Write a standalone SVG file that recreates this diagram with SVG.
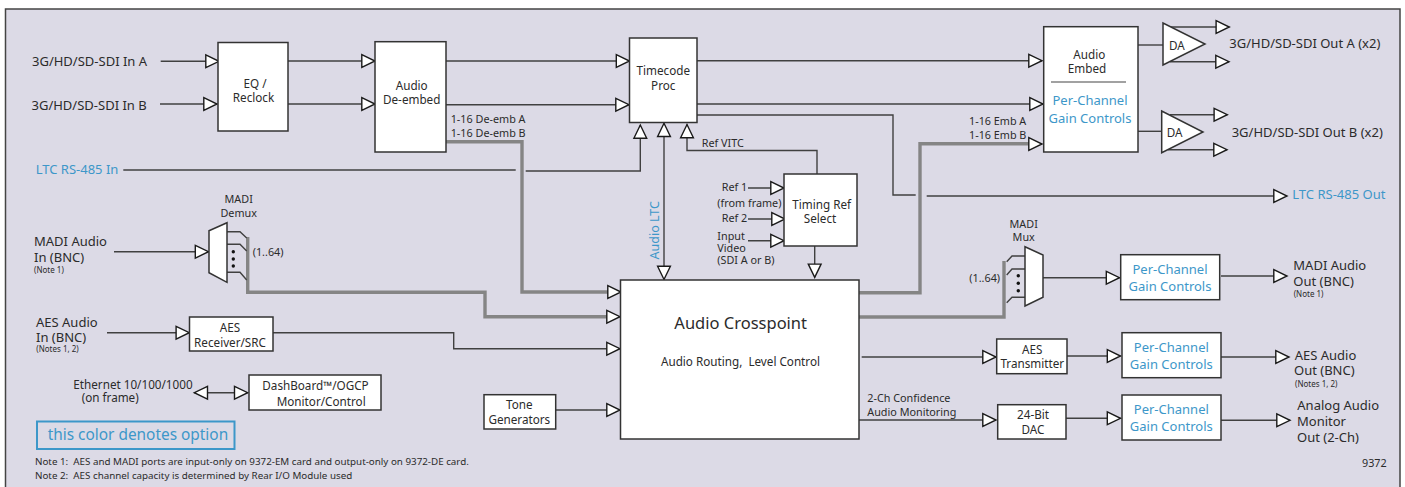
<svg xmlns="http://www.w3.org/2000/svg" width="1405" height="487" viewBox="0 0 1405 487">
<style>
text{font-family:"Noto Sans","Liberation Sans",sans-serif;fill:#2b2b2b;font-size:11.7px;white-space:pre}
.m{text-anchor:middle}
.b{fill:#3d97c9}
.s{font-size:10.8px}
.xs{font-size:8px}
.l{font-size:13px}
.p{font-size:13px;fill:#3d97c9;text-anchor:middle}
.n{font-size:9.8px}
.box{fill:#fff;stroke:#333;stroke-width:1.5}
.c path{fill:none;stroke:#404040;stroke-width:1.4}
.c .t{stroke:#858585;stroke-width:3.4}
.c .a{marker-end:url(#ah)}
.c .d{marker-start:url(#ahs);marker-end:url(#ah)}
.dot{fill:#111}
</style>
<defs>
<marker id="ah" markerUnits="userSpaceOnUse" markerWidth="16" markerHeight="16" refX="14" refY="8" orient="auto" overflow="visible"><path d="M0.8,1.6 L14,8 L0.8,14.4 Z" fill="#fff" stroke="#1a1a1a" stroke-width="1.4"/></marker>
<marker id="ahs" markerUnits="userSpaceOnUse" markerWidth="16" markerHeight="16" refX="14" refY="8" orient="auto-start-reverse" overflow="visible"><path d="M0.8,1.6 L14,8 L0.8,14.4 Z" fill="#fff" stroke="#1a1a1a" stroke-width="1.4"/></marker>
</defs>
<rect x="5.5" y="9" width="1394.5" height="482" fill="#dcdae6" stroke="#444" stroke-width="1.5"/>

<g id="connectors" class="c">
<path class="t" d="M446,141.7H522V292H612"/>
<path class="t" d="M247.7,237V292.3H485V316.7H612"/>
<path class="t" d="M859,292.7H920V143.7H1035"/>
<path class="t" d="M859,317H1004V261"/>
<path class="a" d="M160.7,61.3H219"/>
<path class="a" d="M160,104H217"/>
<path class="a" d="M288,61H375"/>
<path class="a" d="M288,104H375"/>
<path class="a" d="M446,61H629.5"/>
<path class="a" d="M446,104.7H629"/>
<path class="a" d="M697,60.7H1042"/>
<path class="a" d="M697,104H1043"/>
<path d="M697,115H893V195H915.7"/>
<path class="a" d="M926.7,196H1287"/>
<path d="M123.3,170H515.7"/>
<path class="a" d="M525.7,171H640.3V125"/>
<path class="d" d="M664,123.3V279.5"/>
<path class="a" d="M817,174V150.5H687V124.5"/>
<path class="a" d="M748,188H784"/>
<path class="a" d="M748,219H785"/>
<path class="a" d="M748,240.7H784"/>
<path class="a" d="M814.7,246V277.3"/>
<path class="a" d="M612,292H621"/>
<path class="a" d="M612,316.7H620"/>
<path class="a" d="M1035,144H1042"/>
<path d="M227,231.7H240L246.7,238"/>
<path d="M227,244.3H240L246.7,251"/>
<path d="M227,272.3H240L246.7,280"/>
<path class="a" d="M114,251.7H208.5"/>
<path class="a" d="M107,332.7H189.3"/>
<path class="a" d="M273,332.7H453.7V348.7H620"/>
<path class="a" d="M555.7,410H620"/>
<path class="a" d="M861.7,357H996"/>
<path class="a" d="M859,420H996"/>
<path class="a" d="M1067,356H1120.5"/>
<path class="a" d="M1066,418.3H1120.5"/>
<path class="a" d="M1043,277.7H1119.5"/>
<path class="a" d="M1221,276H1287"/>
<path class="a" d="M1221,357H1289"/>
<path class="a" d="M1221,420.3H1290"/>
<path class="d" d="M194.3,392.7H247.7"/>
<path d="M1138,45H1163"/>
<path d="M1138,131.3H1161.7"/>
<path class="a" d="M1170,27H1229.3"/>
<path class="a" d="M1170,61.7H1229"/>
<path class="a" d="M1170,114.7H1227.3"/>
<path class="a" d="M1168,149.7H1227"/>
<path d="M1006.7,261.7L1012,256H1025"/>
<path d="M1006.7,275L1012,269H1025"/>
<path d="M1006.7,302.7L1012,297.3H1025"/>
</g>

<g id="sdi-in"><text class="l" x="32" y="66">3G/HD/SD-SDI In A</text><text class="l" x="31.5" y="109.7">3G/HD/SD-SDI In B</text></g>
<g id="eq"><rect class="box" x="218" y="42.5" width="70" height="88.5"/><text class="m" x="255" y="87.5">EQ /</text><text class="m" x="253.5" y="101.7">Reclock</text></g>
<g id="deembed"><rect class="box" x="375" y="41.7" width="71" height="110.3"/><text class="m" x="411.7" y="90.3">Audio</text><text class="m" x="411.7" y="104">De-embed</text><text class="s" x="450.7" y="122.7">1-16 De-emb A</text><text class="s" x="450.7" y="137">1-16 De-emb B</text></g>
<g id="ltc-in"><text class="l b" x="35.7" y="174">LTC RS-485 In</text></g>
<g id="demux"><polygon class="box" points="209,230.7 227,222.7 227,282.3 209,272.7"/><circle class="dot" cx="233.3" cy="251.7" r="1.7"/><circle class="dot" cx="233.3" cy="259" r="1.7"/><circle class="dot" cx="233.3" cy="266" r="1.7"/><text class="m s" x="238.7" y="202.7">MADI</text><text class="m s" x="238.7" y="216.7">Demux</text><text class="s" x="252.7" y="255.7">(1..64)</text></g>
<g id="madi-in"><text class="l" x="34" y="245.7">MADI Audio</text><text class="l" x="34" y="262">In (BNC)</text><text class="xs" x="34" y="272.7">(Note 1)</text></g>
<g id="aes-in"><text class="l" x="36" y="326.7">AES Audio</text><text class="l" x="36" y="341.7">In (BNC)</text><text class="xs" x="36.3" y="351.7">(Notes 1, 2)</text></g>
<g id="aes-rx"><rect class="box" x="189.5" y="317" width="83.5" height="34"/><text class="m" x="230" y="331.7">AES</text><text class="m" x="230" y="346.7">Receiver/SRC</text></g>
<g id="ethernet"><text x="73.3" y="388.7">Ethernet 10/100/1000</text><text x="81.7" y="401.7">(on frame)</text></g>
<g id="dashboard"><rect class="box" x="249" y="375" width="132" height="35"/><text x="262.3" y="389.7">DashBoard™/OGCP</text><text x="276.7" y="406">Monitor/Control</text></g>
<g id="legend"><rect x="37" y="421.5" width="197.5" height="27.5" fill="none" stroke="#3d97c9" stroke-width="2"/><text class="b" style="font-size:15.4px" x="47.7" y="440">this color denotes option</text></g>
<g id="notes"><text class="n" x="35" y="464.7">Note 1:  AES and MADI ports are input-only on 9372-EM card and output-only on 9372-DE card.</text><text class="n" x="35" y="478.7">Note 2:  AES channel capacity is determined by Rear I/O Module used</text></g>
<g id="timecode"><rect class="box" x="629.5" y="38" width="67.5" height="84.5"/><text class="m" x="663.3" y="75">Timecode</text><text class="m" x="663.3" y="90">Proc</text></g>
<g id="ref-labels"><text class="s" x="701.7" y="147">Ref VITC</text><text class="s" x="721.7" y="191">Ref 1</text><text class="s" x="717.3" y="207">(from frame)</text><text class="s" x="721.7" y="222">Ref 2</text><text class="s" x="717.3" y="240">Input</text><text class="s" x="717.3" y="252">Video</text><text class="s" x="717.3" y="264">(SDI A or B)</text></g>
<g id="timing"><rect class="box" x="784" y="174" width="73" height="72"/><text class="m" x="821.7" y="208.7">Timing Ref</text><text class="m" x="820" y="223.3">Select</text></g>
<g id="audio-ltc"><text class="b" style="font-size:12.5px" transform="translate(659 259.5) rotate(-90)">Audio LTC</text></g>
<g id="crosspoint"><rect class="box" x="620.5" y="280" width="238.5" height="159"/><text class="m" style="font-size:16.5px" x="740.7" y="329">Audio Crosspoint</text><text class="m" x="740.5" y="365.7">Audio Routing,  Level Control</text></g>
<g id="tone"><rect class="box" x="484" y="394.7" width="71.7" height="34.3"/><text class="m" x="519.3" y="409">Tone</text><text class="m" x="519.3" y="424">Generators</text></g>
<g id="embed"><rect class="box" x="1043.7" y="26.7" width="94.3" height="125.3"/><path d="M1051,82H1126" stroke="#444" stroke-width="1.2"/><text class="m" x="1089.3" y="58.7">Audio</text><text class="m" x="1087" y="73">Embed</text><text class="p" x="1090" y="104.7">Per-Channel</text><text class="p" x="1090" y="122.7">Gain Controls</text><text class="s" x="969" y="124.7">1-16 Emb A</text><text class="s" x="969" y="138.7">1-16 Emb B</text></g>
<g id="da-a"><polygon class="box" points="1163,23 1163,65 1205,44"/><text x="1169" y="50">DA</text></g>
<g id="da-b"><polygon class="box" points="1161.7,111 1161.7,152.7 1203,132"/><text x="1166.7" y="137">DA</text></g>
<g id="sdi-out"><text class="l" x="1229.3" y="47.7">3G/HD/SD-SDI Out A (x2)</text><text class="l" x="1231.7" y="136.7">3G/HD/SD-SDI Out B (x2)</text></g>
<g id="ltc-out"><text class="l b" x="1292.3" y="199.3">LTC RS-485 Out</text></g>
<g id="mux"><polygon class="box" points="1025,246.7 1043,255 1043,297.3 1025,306"/><circle class="dot" cx="1018.3" cy="275.7" r="1.7"/><circle class="dot" cx="1018.3" cy="283.3" r="1.7"/><circle class="dot" cx="1018.3" cy="290.7" r="1.7"/><text class="m s" x="1023.7" y="228">MADI</text><text class="m s" x="1023.7" y="240.7">Mux</text><text class="s" x="969.3" y="282">(1..64)</text></g>
<g id="confidence"><text class="s" x="867.3" y="402.3">2-Ch Confidence</text><text class="s" x="867.3" y="415.7">Audio Monitoring</text></g>
<g id="gain-1"><rect class="box" x="1120.7" y="254.7" width="99" height="45"/><text class="p" x="1170" y="273.7">Per-Channel</text><text class="p" x="1170" y="290.7">Gain Controls</text></g>
<g id="gain-2"><rect class="box" x="1122" y="332.7" width="99" height="45"/><text class="p" x="1171.3" y="351.7">Per-Channel</text><text class="p" x="1171.3" y="368.7">Gain Controls</text></g>
<g id="gain-3"><rect class="box" x="1122" y="395" width="99" height="45"/><text class="p" x="1171.3" y="413.7">Per-Channel</text><text class="p" x="1171.3" y="430.7">Gain Controls</text></g>
<g id="aes-tx"><rect class="box" x="996.7" y="339" width="70.3" height="34.7"/><text class="m" x="1032.3" y="353.7">AES</text><text class="m" x="1032.3" y="368">Transmitter</text></g>
<g id="dac"><rect class="box" x="997.7" y="404.7" width="68.3" height="34.3"/><text class="m" x="1033" y="419">24-Bit</text><text class="m" x="1033" y="433.7">DAC</text></g>
<g id="madi-out"><text class="l" x="1293.3" y="270">MADI Audio</text><text class="l" x="1293.3" y="285.7">Out (BNC)</text><text class="xs" x="1293.7" y="296.7">(Note 1)</text></g>
<g id="aes-out"><text class="l" x="1294.7" y="359.7">AES Audio</text><text class="l" x="1294" y="375">Out (BNC)</text><text class="xs" x="1295" y="386.7">(Notes 1, 2)</text></g>
<g id="analog-out"><text class="l" x="1297.3" y="410">Analog Audio</text><text class="l" x="1297" y="426">Monitor</text><text class="l" x="1297" y="442">Out (2-Ch)</text></g>
<g id="fig"><text class="s" x="1362" y="467">9372</text></g>
</svg>
